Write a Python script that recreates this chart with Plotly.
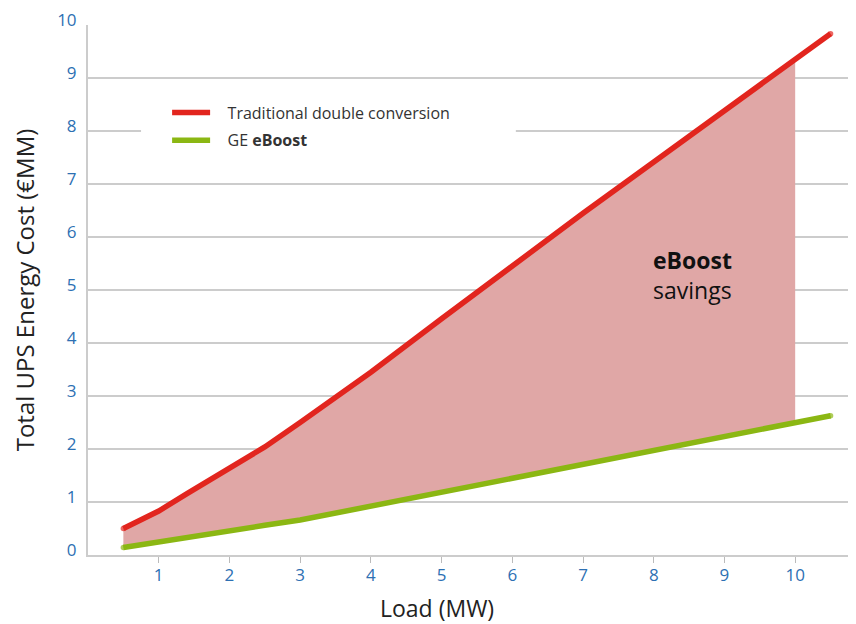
import plotly.graph_objects as go

loads = [0.5, 1, 1.4, 2, 2.5, 3, 3.5, 4, 5, 6, 7, 8, 9, 10, 10.5]
traditional = [0.5, 0.83, 1.16, 1.64, 2.04, 2.5, 2.96, 3.45, 4.46, 5.46, 6.45, 7.42, 8.39, 9.36, 9.84]
eboost = [0.14, 0.25, 0.34, 0.45, 0.56, 0.66, 0.79, 0.93, 1.19, 1.44, 1.70, 1.96, 2.23, 2.49, 2.63]
savings_end = 10

series_names = ["Traditional double conversion", "GE <b>eBoost</b>"]
x_ticks = list(range(1, 11))
y_ticks = list(range(0, 11))
x_title = "Load (MW)"
y_title = "Total UPS Energy Cost (€MM)"

RED = "#e2251e"
GREEN = "#8bb713"
FILL = "#e0a7a6"
TICK = "#2d70b3"
FONT = "Open Sans"
LW = 5.5
PAD = "\u00a0\u00a0\u00a0"

fx = [x for x in loads if x <= savings_end]
n = len(fx)
end_sizes = [LW if i in (0, len(loads) - 1) else 0 for i in range(len(loads))]

fig = go.Figure()
fig.add_trace(go.Scatter(x=fx, y=eboost[:n], mode="lines", line=dict(width=0),
                         showlegend=False, hoverinfo="skip"))
fig.add_trace(go.Scatter(x=fx, y=traditional[:n], mode="lines", line=dict(width=0),
                         fill="tonexty", fillcolor=FILL, showlegend=False, hoverinfo="skip"))
fig.add_trace(go.Scatter(x=loads, y=traditional, mode="lines+markers", name=PAD + series_names[0],
                         legendgroup="a",
                         line=dict(color=RED, width=LW),
                         marker=dict(color=RED, size=end_sizes, line=dict(width=0))))
fig.add_trace(go.Scatter(x=loads, y=eboost, mode="lines+markers", name=PAD + series_names[1],
                         legendgroup="b",
                         line=dict(color=GREEN, width=LW),
                         marker=dict(color=GREEN, size=end_sizes, line=dict(width=0))))

fig.add_shape(type="rect", xref="x", yref="y", x0=0.75, x1=6.05, y0=7.55, y1=8.6,
              fillcolor="white", line=dict(width=0), layer="between")

fig.add_annotation(x=7.96, y=5.28, xref="x", yref="y", xanchor="left", yanchor="middle",
                   align="left", showarrow=False,
                   text="<b>eBoost</b><br>savings",
                   font=dict(family=FONT, size=23, color="#111111"))

fig.add_annotation(x=0.4544, y=-0.1, xref="paper", yref="paper", xanchor="center",
                   yanchor="middle", showarrow=False, text=x_title,
                   font=dict(family=FONT, size=23, color="#222222"))

fig.update_layout(
    width=848, height=616,
    margin=dict(l=80, r=0, t=17, b=69, autoexpand=False),
    paper_bgcolor="white", plot_bgcolor="white",
    font=dict(family=FONT),
    legend=dict(x=0.103, y=0.8085, xanchor="left", yanchor="middle", traceorder="grouped",
                bgcolor="rgba(0,0,0,0)", font=dict(family=FONT, size=16, color="#333333"),
                tracegroupgap=4, itemwidth=38),
    xaxis=dict(range=[0, 10.86], tickvals=x_ticks, showgrid=False, zeroline=False,
               automargin=False,
               showline=True, linecolor="#cccccc", linewidth=2,
               ticks="outside", ticklen=6, tickcolor="#bbbbbb", tickwidth=1,
               ticklabelstandoff=-2,
               tickfont=dict(family=FONT, size=17, color=TICK)),
    yaxis=dict(range=[0, 10.005], tickvals=y_ticks, showgrid=True, gridcolor="#cccccc", gridwidth=2,
               automargin=False, ticklabeloverflow="allow",
               zeroline=False, showline=True, linecolor="#cccccc", linewidth=2,
               ticks="", ticklabelstandoff=6, ticklabelshift=-5,
               tickfont=dict(family=FONT, size=17, color=TICK),
               title=dict(text=y_title,
                          font=dict(family=FONT, size=24, color="#222222"), standoff=31)),
)

fig.write_html("out.html")
